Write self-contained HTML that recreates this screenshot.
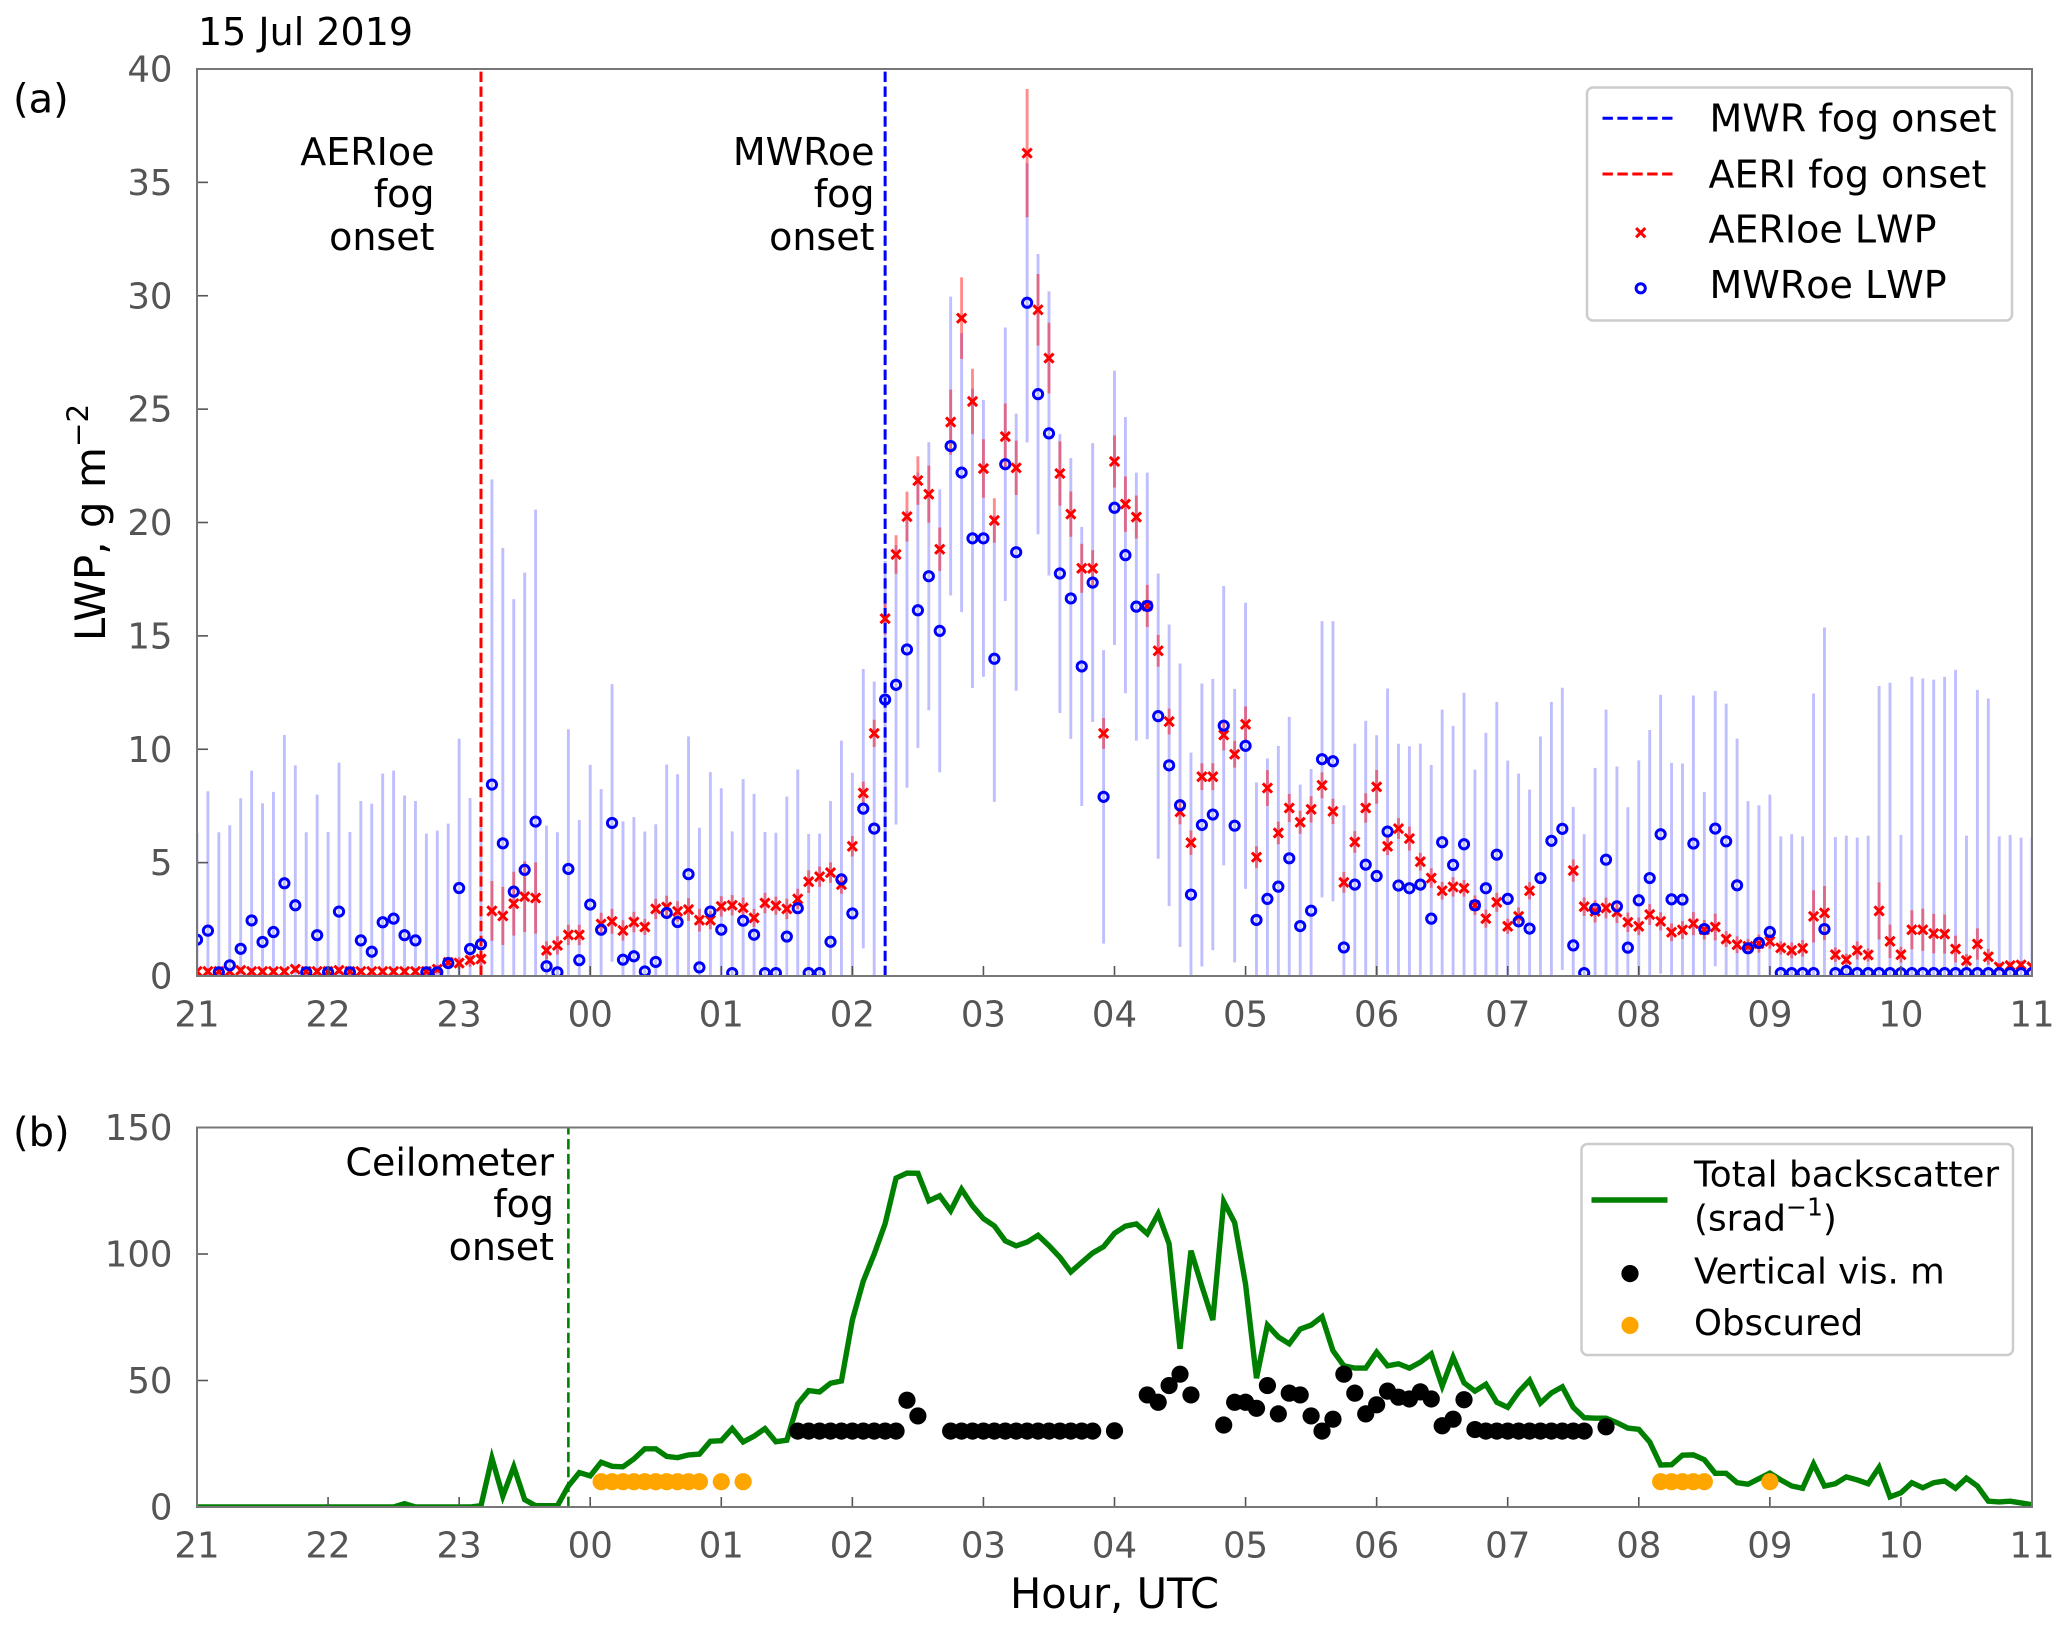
<!DOCTYPE html>
<html>
<head>
<meta charset="utf-8">
<title>LWP and ceilometer backscatter, 15 Jul 2019</title>
<style>
html,body{margin:0;padding:0;background:#fff;}
svg{display:block;}
text{font-family:"DejaVu Sans","Liberation Sans",sans-serif;}
.lab{font-size:38px;fill:#000;}
.tag{font-size:40px;fill:#000;}
.leg{font-size:35.8px;fill:#000;}
.leg2{font-size:35.5px;fill:#000;}
.nokern{font-kerning:none;}
.tick{font-size:35.5px;fill:#555;}
</style>
</head>
<body>
<svg id="fig" xmlns="http://www.w3.org/2000/svg" width="2067" height="1629" viewBox="0 0 2067 1629">
  <defs>
    <clipPath id="clipA"><rect x="197" y="69" width="1835" height="907"/></clipPath>
    <clipPath id="clipB"><rect x="197" y="1127.5" width="1835" height="379.5"/></clipPath>
  </defs>
  <text class="lab" x="198" y="45">15 Jul 2019</text>
  <text class="tag" x="13" y="112.7">(a)</text>
  <text class="tag" x="13" y="1146">(b)</text>
  <text transform="translate(105,522.5) rotate(-90)" font-size="42" fill="#000" text-anchor="middle">LWP, g m<tspan dy="-17" font-size="29.4">−2</tspan></text>
  <text x="1114.5" y="1608" font-size="41.6" fill="#000" text-anchor="middle">Hour, UTC</text>

  <g id="panelA"></g>
  <g id="panelB"></g>

  <g text-anchor="end">
    <text class="lab" x="434.5" y="165">AERIoe</text>
    <text class="lab" x="434.5" y="207">fog</text>
    <text class="lab" x="434.5" y="250">onset</text>
  </g>
  <g text-anchor="end">
    <text class="lab" x="874.5" y="165">MWRoe</text>
    <text class="lab" x="874.5" y="207">fog</text>
    <text class="lab" x="874.5" y="250">onset</text>
  </g>
  <g text-anchor="end">
    <text class="lab" x="554" y="1175.5">Ceilometer</text>
    <text class="lab" x="554" y="1217">fog</text>
    <text class="lab" x="554" y="1260">onset</text>
  </g>

  <g>
    <rect x="1587" y="87.5" width="425" height="233" rx="6" fill="#fff" fill-opacity="0.85" stroke="#ccc" stroke-width="2.5"/>
    <line x1="1602.5" x2="1675.5" y1="118.3" y2="118.3" stroke="#0000ff" stroke-width="3" stroke-dasharray="10.4,4.5"/>
    <line x1="1602.5" x2="1675.5" y1="174" y2="174" stroke="#ff0000" stroke-width="3" stroke-dasharray="10.4,4.5"/>
    <path d="M1636.1 228.1L1645.3 237.3M1636.1 237.3L1645.3 228.1" stroke="#ff0000" stroke-width="3" fill="none"/>
    <circle cx="1640.7" cy="288.3" r="4.6" stroke="#0000ff" stroke-width="3" fill="none"/>
    <text class="lab" x="1709.5" y="131.7">MWR fog onset</text>
    <text class="lab" x="1708.5" y="187.3">AERI fog onset</text>
    <text class="lab nokern" x="1708.5" y="242.7">AERIoe LWP</text>
    <text class="lab nokern" x="1709.5" y="298">MWRoe LWP</text>
  </g>

  <g>
    <rect x="1581.5" y="1144" width="431.5" height="211" rx="6" fill="#fff" fill-opacity="0.85" stroke="#ccc" stroke-width="2.5"/>
    <line x1="1591.5" x2="1667.5" y1="1200" y2="1200" stroke="#008000" stroke-width="5.4"/>
    <circle cx="1630" cy="1273.6" r="8.6" fill="#000"/>
    <circle cx="1630" cy="1325.4" r="8.6" fill="#ffa500"/>
    <text class="leg" x="1694" y="1186.4">Total backscatter</text>
    <text class="leg" x="1694" y="1230.5">(srad<tspan dy="-15" font-size="25">−1</tspan><tspan dy="15">)</tspan></text>
    <text class="leg2" x="1694" y="1283.7">Vertical vis. m</text>
    <text class="leg2" x="1694" y="1335">Obscured</text>
  </g>
</svg>

<script>
// ---- chart data (one sample every 5 minutes from 21:00 UTC) ----
var hourLabels = ['21','22','23','00','01','02','03','04','05','06','07','08','09','10','11'];
var lwpTicks = [0,5,10,15,20,25,30,35,40];
var backscatterTicks = [0,50,100,150];
var aeriOnsetStep = 26;
var mwrOnsetStep = 63;
var ceilOnsetStep = 34;

var mwrLwp = [
1.6,2.0,.16,.47,1.2,2.45,1.5,1.94,4.09,3.12,
.16,1.8,.16,2.84,.16,1.57,1.07,2.37,2.53,1.8,
1.57,.16,.16,.57,3.88,1.19,1.4,8.44,5.85,3.72,
4.68,6.81,.43,.16,4.72,.7,3.15,2.04,6.75,.72,
.87,.2,.62,2.78,2.38,4.49,.38,2.84,2.04,.13,
2.44,1.82,.13,.13,1.74,2.99,.13,.13,1.51,4.26,
2.76,7.38,6.5,12.19,12.84,14.4,16.13,17.63,15.22,23.37,
22.2,19.3,19.3,13.99,22.57,18.69,29.69,25.66,23.93,17.75,
16.65,13.65,17.35,7.9,20.65,18.56,16.29,16.32,11.46,9.29,
7.53,3.59,6.66,7.12,11.04,6.63,10.15,2.47,3.4,3.94,
5.19,2.2,2.88,9.56,9.47,1.26,4.03,4.91,4.41,6.37,
3.99,3.87,4.03,2.53,5.9,4.9,5.81,3.12,3.87,5.35,
3.4,2.41,2.09,4.32,5.96,6.49,1.35,.13,2.96,5.13,
3.07,1.25,3.34,4.32,6.25,3.38,3.37,5.84,2.07,6.5,
5.94,4.0,1.22,1.46,1.94,.13,.13,.13,.13,2.07,
.13,.22,.13,.13,.13,.13,.13,.13,.13,.13,
.13,.13,.13,.13,.13,.13,.13,.13,.13];

var mwrUpper = [
6.3,8.15,6.34,6.65,7.84,9.06,7.62,8.12,10.63,9.29,
6.34,8.0,6.35,9.41,6.35,7.72,7.6,8.93,9.06,7.96,
7.72,6.28,6.41,6.72,10.47,7.85,7,21.9,18.88,16.62,
17.79,20.57,6.63,6.34,10.88,6.88,9.31,8.24,12.87,6.82,
7.01,6.37,6.69,9.32,8.9,10.57,6.54,8.99,8.28,6.38,
8.68,8.03,6.35,6.32,7.91,9.1,6.26,6.28,7.72,10.38,
8.96,13.54,12.99,18.3,19,20.5,22.2,23.54,21.46,29.96,
28.35,25.9,25.4,20.3,28.6,24.8,35.85,31.84,30.2,23.9,
22.84,19.8,23.5,14.37,26.7,24.65,22.2,22.2,17.75,15.5,
13.78,9.85,12.9,13.1,17.2,12.66,16.46,8.54,9.6,10.15,
11.43,8.44,9.13,15.65,15.65,7.53,10.25,11.25,10.62,12.68,
10.24,10.13,10.25,9.31,11.75,11.03,12.49,9.1,10.72,12.09,
9.5,8.93,8.22,10.56,12.09,12.71,7.46,6.25,9.18,11.75,
9.24,7.44,9.51,10.85,12.4,9.4,9.37,12.37,8.12,12.57,
12.01,10.47,7.71,7.53,8.0,6.16,6.25,6.16,12.46,15.37,
6.13,6.19,6.1,6.19,12.79,12.93,6.22,13.2,13.12,13.07,
13.2,13.5,6.19,12.62,12.24,6.16,6.22,6.1,6.1];

var aeriLwp = [
.2,.2,.2,.2,.25,.2,.2,.2,.2,.3,
.2,.2,.2,.25,.2,.2,.2,.2,.2,.2,
.2,.2,.3,.6,.57,.7,.75,2.87,2.65,3.19,
3.5,3.44,1.13,1.35,1.81,1.81,null,2.29,2.41,2.01,
2.38,2.16,2.96,3.04,2.85,2.93,2.46,2.46,3.07,3.12,
3.01,2.56,3.22,3.1,2.96,3.4,4.16,4.38,4.56,4.03,
5.72,8.07,10.7,15.76,18.59,20.26,21.85,21.25,18.82,24.43,
29.01,25.34,22.38,20.09,23.79,22.41,36.29,29.38,27.25,22.16,
20.37,17.98,17.98,10.7,22.69,20.81,20.24,16.32,14.34,11.22,
7.24,5.88,8.79,8.79,10.63,9.78,11.1,5.24,8.29,6.31,
7.41,6.78,7.35,8.41,7.26,4.13,5.91,7.41,8.34,5.72,
6.5,6.06,5.04,4.32,3.76,3.93,3.87,3.12,2.53,3.25,
2.19,2.63,3.76,null,null,null,4.65,3.06,2.85,3.0,
2.82,2.37,2.19,2.71,2.41,1.93,2.03,2.31,2.04,2.16,
1.63,1.38,1.31,1.43,1.53,1.24,1.13,1.22,2.63,2.78,
.94,.72,1.13,.93,2.87,1.53,.94,2.04,2.04,1.87,
1.85,1.19,.68,1.41,.85,.4,.46,.49,.4];

var aeriErr = [
.15,.15,.15,.15,.15,.15,.15,.15,.15,.15,
.15,.15,.15,.15,.15,.15,.15,.15,.15,.15,
.15,.15,.2,.25,.25,.3,.3,1.32,1.28,1.41,
1.56,1.57,.4,.4,.45,.45,null,.5,.55,.45,
.45,.35,.45,.5,.45,.5,.5,.4,.45,.45,
.45,.4,.45,.4,.45,.45,.5,.45,.45,.4,
.45,.5,.6,.7,.85,1.1,1.07,1.26,.96,1.43,
1.8,1.44,1.29,.98,1.46,1.2,2.83,1.58,1.56,1.42,
1.0,1.08,.8,.68,1.15,1.22,.95,.93,.7,.57,
.55,.54,.59,.59,.68,.59,.79,.48,.79,.5,
.62,.51,.58,.57,.56,.46,.48,.65,.74,.39,
.46,.53,.39,.43,.39,.43,.37,.43,.4,.42,
.33,.39,.38,null,null,null,.49,.41,.49,.46,
.48,.43,.39,.46,.4,.39,.4,.51,.43,.59,
.35,.37,.32,.4,.33,.29,.35,.37,1.15,1.19,
.32,.26,.4,.29,1.26,.74,.35,.86,.93,.87,
.86,.59,.29,.69,.35,.18,.18,.18,.18];

var backscatter = [
0,0,0,0,0,0,0,0,0,0,
0,0,0,0,0,0,0,0,0,1.3,
0,0,0,0,0,0,.5,19.3,4.3,15.9,
2.9,.5,.5,.5,8.3,13.6,12.3,17.7,16.1,15.9,
19,23,23,20,19.5,20.6,20.9,26,26.2,31,
25.7,28,31,25.8,26.4,40.8,46,45.5,48.9,49.8,
73.9,89.3,100,112,130,132,131.9,121,123,117.1,
125.6,119,114,111.1,105.2,103.2,104.7,107.4,103.3,98.7,
92.9,96.7,100.4,102.9,108.2,111,111.9,108,115.9,104,
62.5,101.3,87.3,73.9,120.7,112.4,88,50.9,71.9,67.2,
64.5,70.3,71.9,75.2,61.8,55.8,54.9,54.9,61.2,55.8,
56.6,54.9,57.2,60.5,47.8,59.2,49.1,45.8,48.5,41.4,
39.4,45.5,50.1,41.1,45.1,47.5,39.4,35.3,35.1,35.1,
33.3,31.2,30.7,25.7,16.6,16.7,20.5,20.6,18.7,13.3,
13.3,9.6,9,11.2,13.4,10.7,8.3,7.4,17,8.3,
9.2,11.9,10.7,9.2,15.7,4,5.6,9.6,7.6,9.6,
10.3,7.4,11.4,8.3,2.3,2,2.3,1.6,.9];

var visSteps = [55,56,57,58,59,60,61,62,63,64,65,66,
69,70,71,72,73,74,75,76,77,78,79,80,81,82,84,
87,88,89,90,91,94,95,96,97,98,99,100,101,102,103,104,105,106,107,108,109,110,111,112,113,114,115,116,117,
118,119,120,121,122,123,124,125,126,127,129];
var visValues = [30,30,30,30,30,30,30,30,30,30,42.2,36,
30,30,30,30,30,30,30,30,30,30,30,30,30,30,30.1,
44.3,41.4,48,52.5,44.3,32.4,41.4,41.4,39,48,36.8,45,44.3,36,30,34.7,52.5,45,36.8,40.4,45.8,43.4,42.7,45.5,42.7,32.1,34.7,42.4,30.6,
30,30,30,30,30,30,30,30,30,30,31.7];

var obscuredSteps = [37,38,39,40,41,42,43,44,45,46,48,50,134,135,136,137,138,144];
var obscuredValues = [10,10,10,10,10,10,10,10,10,10,10,10,10,10,10,10,10,10];

// ---- axis functions ----
var X0 = 197, X1 = 2032, HOURS = 14;
var A_TOP = 69, A_BOT = 976, A_MAX = 40;
var B_TOP = 1127.5, B_BOT = 1507, B_MAX = 150;
function xOfHour(h){ return X0 + h / HOURS * (X1 - X0); }
function xOfStep(s){ return xOfHour(s * 5 / 60); }
function yA(v){ return A_BOT - v / A_MAX * (A_BOT - A_TOP); }
function yB(v){ return B_BOT - v / B_MAX * (B_BOT - B_TOP); }

var NS = 'http://www.w3.org/2000/svg';
function mk(tag, parent, geom){
  var e = document.createElementNS(NS, tag);
  for (var k in geom) e.setAttribute(k, geom[k]);
  parent.appendChild(e);
  return e;
}

var pA = document.getElementById('panelA');
var pB = document.getElementById('panelB');
var el, i;

// ---- panel (a) ----
var gA = mk('g', pA, {'clip-path':'url(#clipA)'});



for (i = 0; i < mwrLwp.length; i++) {
  el = mk('line', gA, {x1:xOfStep(i), x2:xOfStep(i), y1:yA(mwrUpper[i]), y2:yA(2 * mwrLwp[i] - mwrUpper[i]), stroke:'#0000ff', 'stroke-opacity':0.25, 'stroke-width':2.9});
  
  
}
for (i = 0; i < aeriLwp.length; i++) {
  if (aeriLwp[i] === null) continue;
  el = mk('line', gA, {x1:xOfStep(i), x2:xOfStep(i), y1:yA(aeriLwp[i] + aeriErr[i]), y2:yA(aeriLwp[i] - aeriErr[i]), stroke:'#ff0000', 'stroke-opacity':0.45, 'stroke-width':2.9});
  
  
}

el = mk('line', gA, {x1:xOfStep(aeriOnsetStep), x2:xOfStep(aeriOnsetStep), y1:A_BOT, y2:A_TOP, stroke:'#ff0000', 'stroke-width':3, 'stroke-dasharray':'10.4,4.5'});


el = mk('line', gA, {x1:xOfStep(mwrOnsetStep), x2:xOfStep(mwrOnsetStep), y1:A_BOT, y2:A_TOP, stroke:'#0000ff', 'stroke-width':3, 'stroke-dasharray':'10.4,4.5'});



for (i = 0; i < aeriLwp.length; i++) {
  if (aeriLwp[i] === null) continue;
  var cx = xOfStep(i), cy = yA(aeriLwp[i]), d = 4.6;
  el = mk('path', gA, {d:'M'+(cx-d)+' '+(cy-d)+'L'+(cx+d)+' '+(cy+d)+'M'+(cx-d)+' '+(cy+d)+'L'+(cx+d)+' '+(cy-d), stroke:'#ff0000', 'stroke-width':3, fill:'none'});
  
  
}
for (i = 0; i < mwrLwp.length; i++) {
  el = mk('circle', gA, {cx:xOfStep(i), cy:yA(mwrLwp[i]), r:4.6, stroke:'#0000ff', 'stroke-width':3, fill:'none'});
  
  
}

// ---- panel (b) ----
var gB = mk('g', pB, {'clip-path':'url(#clipB)'});



el = mk('line', gB, {x1:xOfStep(ceilOnsetStep), x2:xOfStep(ceilOnsetStep), y1:B_BOT, y2:B_TOP, stroke:'#008000', 'stroke-width':2.6, 'stroke-dasharray':'10.4,4.5'});



var pts = backscatter.map(function(v, s){ return xOfStep(s).toFixed(2) + ',' + yB(v).toFixed(2); }).join(' ');
el = mk('polyline', gB, {points:pts, fill:'none', stroke:'#008000', 'stroke-width':5.4, 'stroke-linejoin':'miter'});



for (i = 0; i < visSteps.length; i++) {
  el = mk('circle', gB, {cx:xOfStep(visSteps[i]), cy:yB(visValues[i]), r:8.6, fill:'#000'});
  
  
}
for (i = 0; i < obscuredSteps.length; i++) {
  el = mk('circle', gB, {cx:xOfStep(obscuredSteps[i]), cy:yB(obscuredValues[i]), r:8.6, fill:'#ffa500'});
  
  
}

// ---- axes ----
function drawXAxis(parent, bot, labelY, nameTick, nameLabel){
  hourLabels.forEach(function(lab, h){
    var t = mk('line', parent, {x1:xOfHour(h), x2:xOfHour(h), y1:bot, y2:bot-10, stroke:'#555', 'stroke-width':1.6});
    
    
    var tx = mk('text', parent, {x:xOfHour(h), y:labelY, 'text-anchor':'middle', 'class':'tick'});
    tx.textContent = lab;
    
    
  });
}
function drawYAxis(parent, ticks, scale, nameTick, nameLabel){
  ticks.forEach(function(v){
    var t = mk('line', parent, {x1:X0, x2:X0+11, y1:scale(v), y2:scale(v), stroke:'#555', 'stroke-width':1.6});
    
    
    var tx = mk('text', parent, {x:172.5, y:scale(v)+12.5, 'text-anchor':'end', 'class':'tick'});
    tx.textContent = String(v);
    
    
  });
}
drawXAxis(pA, A_BOT, 1026.5, 'lwp-x-tick', 'lwp-x-tick-label');
drawYAxis(pA, lwpTicks, yA, 'lwp-y-tick', 'lwp-y-tick-label');
drawXAxis(pB, B_BOT, 1557.5, 'backscatter-x-tick', 'backscatter-x-tick-label');
drawYAxis(pB, backscatterTicks, yB, 'backscatter-y-tick', 'backscatter-y-tick-label');

el = mk('rect', pA, {x:X0, y:A_TOP, width:X1-X0, height:A_BOT-A_TOP, fill:'none', stroke:'#777', 'stroke-width':2});


el = mk('rect', pB, {x:X0, y:B_TOP, width:X1-X0, height:B_BOT-B_TOP, fill:'none', stroke:'#777', 'stroke-width':2});


</script>
</body>
</html>
